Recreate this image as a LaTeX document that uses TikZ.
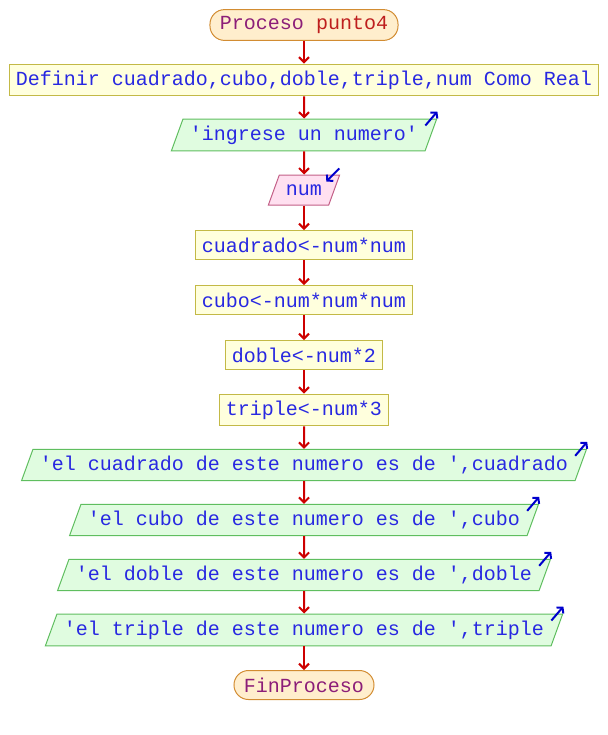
\documentclass[tikz,border=0pt]{standalone}
\usepackage{fontspec}
\setmonofont{Liberation Mono}
\usetikzlibrary{shapes.geometric,arrows.meta}
\definecolor{txtblue}{RGB}{40,40,225}
\definecolor{txtpurple}{RGB}{140,30,120}
\definecolor{txtred}{RGB}{190,30,30}
\definecolor{procfill}{RGB}{255,255,221}
\definecolor{procdraw}{RGB}{195,185,70}
\definecolor{iofill}{RGB}{224,252,224}
\definecolor{iodraw}{RGB}{95,190,95}
\definecolor{infill}{RGB}{255,224,240}
\definecolor{indraw}{RGB}{195,95,135}
\definecolor{termfill}{RGB}{255,238,205}
\definecolor{termdraw}{RGB}{210,140,50}
\definecolor{flowred}{RGB}{205,0,0}
\definecolor{hintblue}{RGB}{0,0,205}
\begin{document}
\begin{tikzpicture}[x=0.5pt, y=-0.5pt,
    every node/.style={font=\ttfamily\fontsize{10pt}{12pt}\selectfont, text=txtblue},
    term/.style={rectangle, rounded corners=7.25pt, draw=termdraw, fill=termfill, minimum height=14.5pt, inner xsep=5pt, line width=0.5pt},
    proc/.style={rectangle, draw=procdraw, fill=procfill, minimum height=14.5pt, inner xsep=3pt, line width=0.5pt},
    io/.style={trapezium, trapezium left angle=70, trapezium right angle=110, draw=iodraw, fill=iofill, minimum height=15pt, inner xsep=3.5pt, line width=0.5pt},
    inp/.style={io, draw=indraw, fill=infill, inner xsep=1pt},
    flow/.style={-{Straight Barb[length=2.5pt,width=5pt]}, draw=flowred, line width=1pt},
    hint/.style={-{Straight Barb[length=2pt,width=4.5pt]}, draw=hintblue, line width=1pt}]
    \useasboundingbox (0, 0) rectangle (608, 735);

    \node[term] (s-0) at (304, 25) {\textcolor{txtpurple}{Proceso} \textcolor{txtred}{punto4}};
    \node[proc] (s-1) at (304, 80) {Definir cuadrado,cubo,doble,triple,num Como Real};
    \node[io] (s-2) at (304, 135) {'ingrese un numero'};
    \node[inp] (s-3) at (304, 190) {num};

    \node[proc] (s-4) at (304, 245) {cuadrado<-num*num};
    \node[proc] (s-5) at (304, 300) {cubo<-num*num*num};
    \node[proc] (s-6) at (304, 355) {doble<-num*2};
    \node[proc] (s-7) at (304, 410) {triple<-num*3};

    \node[io] (s-8) at (304, 465) {'el cuadrado de este numero es de ',cuadrado};
    \node[io] (s-9) at (304, 520) {'el cubo de este numero es de ',cubo};
    \node[io] (s-10) at (304, 575) {'el doble de este numero es de ',doble};
    \node[io] (s-11) at (304, 630) {'el triple de este numero es de ',triple};
    \node[term] (s-12) at (304, 685) {\textcolor{txtpurple}{FinProceso}};

    \foreach \i [evaluate=\i as \j using int(\i+1)] in {0,...,11}
        \draw[flow] (s-\i) -- (s-\j);

    % little arrows on the corners of the in/out shapes
    \foreach \i in {2,8,9,10,11}
        \draw[hint] ([shift={(-12,7)}]s-\i.top right corner) -- ([shift={(0,-7)}]s-\i.top right corner);
    \draw[hint] ([shift={(-1,-6)}]s-3.top right corner) -- ([shift={(-14,7)}]s-3.top right corner);
\end{tikzpicture}
\end{document}
